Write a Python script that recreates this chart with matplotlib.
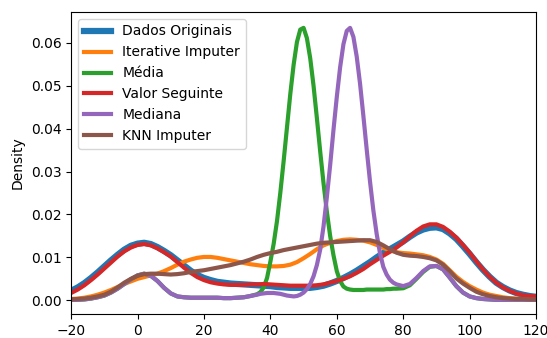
import matplotlib
matplotlib.use('Agg')
import matplotlib.pyplot as plt
import numpy as np

x = np.arange(-20, 121, 2)
# the two narrow peaks get a finer grid (step 1) between 36 and 77
x_fino = np.concatenate([np.arange(-20, 36, 2), np.arange(36, 78, 1), np.arange(78, 121, 2)])

dados_originais = [
    0.0022, 0.0030, 0.0040, 0.0052, 0.0065, 0.0079, 0.0093, 0.0106, 0.0118, 0.0127,
    0.0132, 0.0134, 0.0131, 0.0124, 0.0115, 0.0105, 0.0093, 0.0081, 0.0069, 0.0059,
    0.0052, 0.0047, 0.0043, 0.0041, 0.0039, 0.0038, 0.0037, 0.0036, 0.0035, 0.0034,
    0.0033, 0.0031, 0.0030, 0.0029, 0.0029, 0.0029, 0.0029, 0.0031, 0.0034, 0.0039,
    0.0045, 0.0052, 0.0060, 0.0069, 0.0079, 0.0089, 0.0100, 0.0110, 0.0119, 0.0128,
    0.0137, 0.0148, 0.0158, 0.0165, 0.0169, 0.0170, 0.0166, 0.0156, 0.0143, 0.0126,
    0.0108, 0.0089, 0.0071, 0.0055, 0.0041, 0.0031, 0.0023, 0.0017, 0.0013, 0.0010,
    0.0008]

iterative_imputer = [
    0.0003, 0.0004, 0.0006, 0.0009, 0.0013, 0.0018, 0.0024, 0.0031, 0.0038, 0.0044,
    0.0050, 0.0054, 0.0058, 0.0062, 0.0068, 0.0075, 0.0083, 0.0090, 0.0095, 0.0099,
    0.0101, 0.0101, 0.0099, 0.0096, 0.0093, 0.0090, 0.0087, 0.0084, 0.0082, 0.0080,
    0.0079, 0.0079, 0.0080, 0.0083, 0.0089, 0.0098, 0.0108, 0.0119, 0.0128, 0.0134,
    0.0138, 0.0141, 0.0142, 0.0141, 0.0139, 0.0135, 0.0129, 0.0122, 0.0116, 0.0112,
    0.0110, 0.0109, 0.0107, 0.0105, 0.0101, 0.0095, 0.0085, 0.0070, 0.0055, 0.0043,
    0.0033, 0.0025, 0.0018, 0.0013, 0.0010, 0.0007, 0.0005, 0.0004, 0.0003, 0.0003,
    0.0002]

# on x_fino
media = [
    0.0001, 0.0001, 0.0002, 0.0004, 0.0007, 0.0011, 0.0018, 0.0027, 0.0038, 0.0049,
    0.0058, 0.0062, 0.0057, 0.0045, 0.0029, 0.0016, 0.0009, 0.0007, 0.0006, 0.0006,
    0.0006, 0.0006, 0.0006, 0.0005, 0.0005, 0.0006, 0.0007, 0.0010,
    0.0014, 0.0019, 0.0030, 0.0052, 0.0090, 0.0132, 0.0185, 0.0251, 0.0325, 0.0403,
    0.0481, 0.0549, 0.0602, 0.0631, 0.0635, 0.0611, 0.0564, 0.0500, 0.0425, 0.0347,
    0.0273, 0.0207, 0.0150, 0.0105, 0.0068, 0.0045, 0.0032, 0.0027, 0.0025, 0.0024,
    0.0024, 0.0024, 0.0024, 0.0025, 0.0025, 0.0025, 0.0025, 0.0025, 0.0025, 0.0026,
    0.0026, 0.0027,
    0.0027, 0.0028, 0.0035, 0.0050, 0.0066, 0.0078, 0.0080, 0.0072, 0.0053, 0.0033,
    0.0018, 0.0009, 0.0005, 0.0003, 0.0002, 0.0001, 0.0001, 0.0001, 0.0001, 0.0001,
    0.0001, 0.0001]

valor_seguinte = [
    0.0017, 0.0025, 0.0035, 0.0047, 0.0060, 0.0074, 0.0088, 0.0102, 0.0114, 0.0123,
    0.0129, 0.0131, 0.0128, 0.0121, 0.0112, 0.0102, 0.0089, 0.0076, 0.0064, 0.0054,
    0.0047, 0.0042, 0.0039, 0.0037, 0.0036, 0.0036, 0.0036, 0.0037, 0.0037, 0.0038,
    0.0037, 0.0036, 0.0035, 0.0034, 0.0034, 0.0034, 0.0034, 0.0035, 0.0037, 0.0041,
    0.0045, 0.0050, 0.0056, 0.0064, 0.0073, 0.0084, 0.0094, 0.0104, 0.0113, 0.0123,
    0.0135, 0.0149, 0.0162, 0.0172, 0.0177, 0.0177, 0.0171, 0.0160, 0.0146, 0.0129,
    0.0111, 0.0091, 0.0072, 0.0055, 0.0041, 0.0030, 0.0022, 0.0016, 0.0012, 0.0010,
    0.0009]

# on x_fino
mediana = [
    0.0001, 0.0001, 0.0002, 0.0004, 0.0007, 0.0011, 0.0018, 0.0027, 0.0038, 0.0049,
    0.0058, 0.0062, 0.0057, 0.0045, 0.0029, 0.0016, 0.0009, 0.0007, 0.0006, 0.0006,
    0.0006, 0.0006, 0.0006, 0.0005, 0.0005, 0.0006, 0.0007, 0.0010,
    0.0013, 0.0015, 0.0016, 0.0017, 0.0017, 0.0017, 0.0016, 0.0015, 0.0013, 0.0011,
    0.0010, 0.0009, 0.0010, 0.0013, 0.0018, 0.0026, 0.0038, 0.0056, 0.0082, 0.0118,
    0.0172, 0.0240, 0.0315, 0.0397, 0.0474, 0.0543, 0.0597, 0.0628, 0.0635, 0.0614,
    0.0568, 0.0505, 0.0430, 0.0352, 0.0277, 0.0210, 0.0155, 0.0110, 0.0078, 0.0060,
    0.0048, 0.0041,
    0.0037, 0.0033, 0.0038, 0.0052, 0.0068, 0.0079, 0.0080, 0.0072, 0.0053, 0.0033,
    0.0018, 0.0009, 0.0005, 0.0003, 0.0002, 0.0001, 0.0001, 0.0001, 0.0001, 0.0001,
    0.0001, 0.0001]

knn_imputer = [
    0.0002, 0.0003, 0.0004, 0.0006, 0.0009, 0.0013, 0.0020, 0.0030, 0.0041, 0.0050,
    0.0057, 0.0061, 0.0062, 0.0062, 0.0061, 0.0060, 0.0061, 0.0063, 0.0066, 0.0068,
    0.0070, 0.0073, 0.0076, 0.0079, 0.0082, 0.0086, 0.0090, 0.0095, 0.0101, 0.0106,
    0.0110, 0.0113, 0.0117, 0.0120, 0.0123, 0.0126, 0.0129, 0.0132, 0.0134, 0.0135,
    0.0136, 0.0137, 0.0138, 0.0139, 0.0140, 0.0140, 0.0136, 0.0128, 0.0119, 0.0111,
    0.0106, 0.0104, 0.0103, 0.0101, 0.0098, 0.0093, 0.0083, 0.0068, 0.0051, 0.0039,
    0.0029, 0.0020, 0.0014, 0.0010, 0.0007, 0.0005, 0.0004, 0.0003, 0.0003, 0.0002,
    0.0002]

series = [
    ('Dados Originais', x, dados_originais, '#1f77b4', 4.5),
    ('Iterative Imputer', x, iterative_imputer, '#ff7f0e', 3),
    ('Média', x_fino, media, '#2ca02c', 3),
    ('Valor Seguinte', x, valor_seguinte, '#d62728', 3),
    ('Mediana', x_fino, mediana, '#9467bd', 3),
    ('KNN Imputer', x, knn_imputer, '#8c564b', 3),
]

plt.rcParams.update({'font.size': 10})

fig, ax = plt.subplots(figsize=(5.47, 3.38), dpi=100)
fig.subplots_adjust(left=0.13, right=0.98, bottom=0.071, top=0.9645)

for label, xs, values, color, lw in series:
    ax.plot(xs, values, color=color, linewidth=lw, label=label,
            solid_joinstyle='round')

ax.set_xlim(-20, 120)
ax.set_ylim(-0.0032, 0.0672)
ax.set_xticks(np.arange(-20, 121, 20))
ax.set_yticks(np.arange(0, 0.061, 0.01))
ax.set_ylabel('Density')
ax.legend(loc='upper left')

plt.savefig('out.png', dpi=100)
plt.close()
